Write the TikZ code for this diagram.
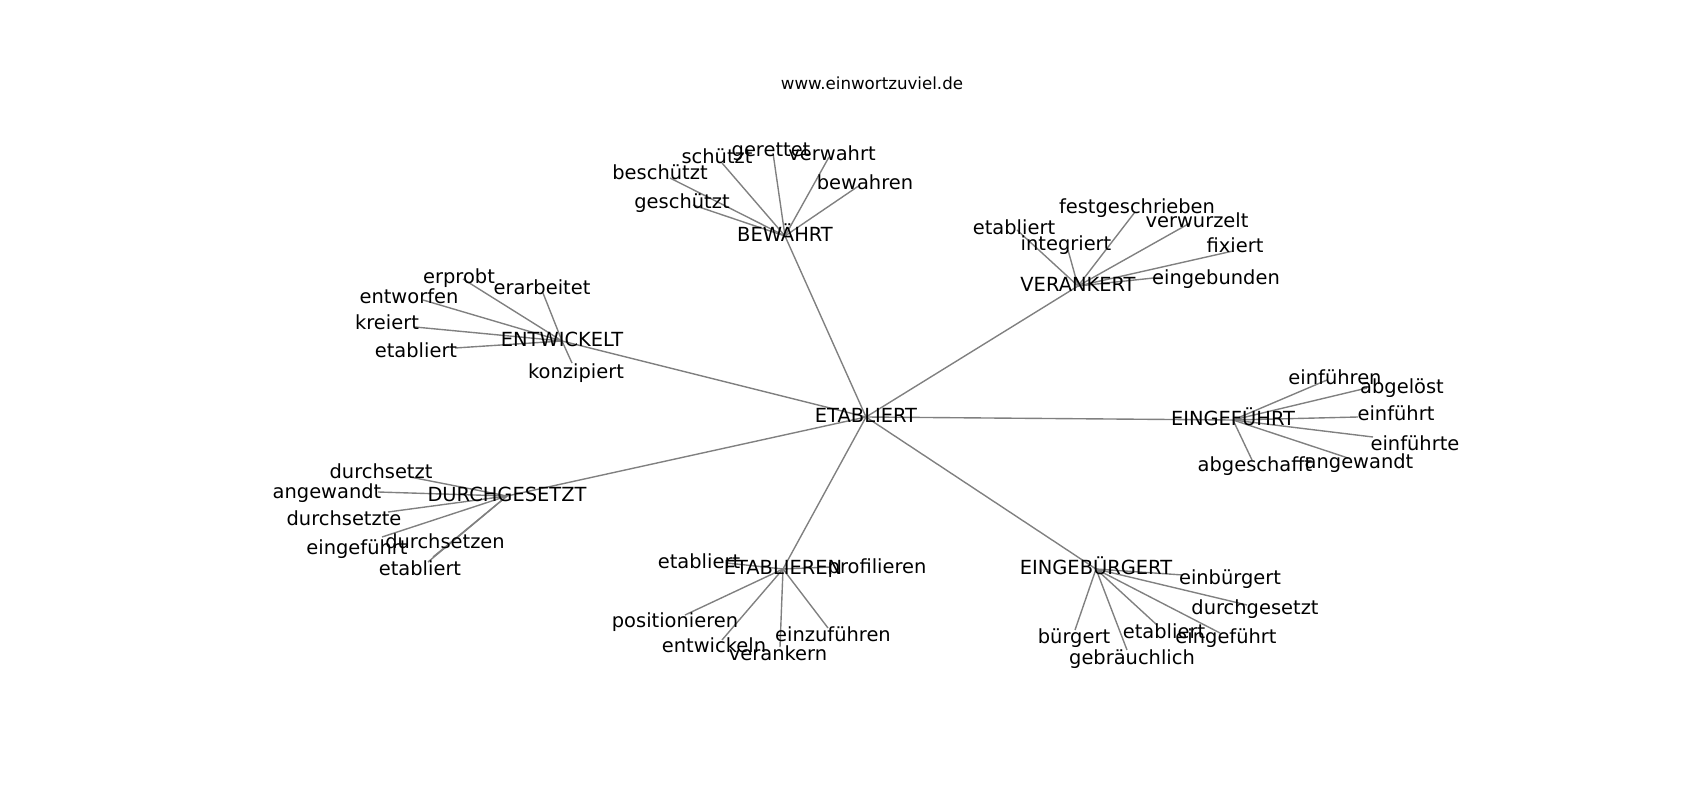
\documentclass[tikz,border=0pt]{standalone}
\usepackage{fontspec}
\setmainfont{DejaVu Sans}
\usetikzlibrary{backgrounds}
\tikzset{
  leaf/.style={font=\fontsize{14}{16}\selectfont, inner sep=0pt,
    text height=10.64pt, text depth=3.36pt},
  hub/.style={leaf},
  sitename/.style={font=\fontsize{12}{14}\selectfont, inner sep=0pt,
    text height=9.12pt, text depth=2.88pt},
  edge/.style={draw=gray, line width=1pt}
}
\newcommand*{\Leaves}[2]{% #1 = hub node, #2 = list of x/y/lx/ly/word
  \foreach \x/\y/\lx/\ly/\word [count=\i] in {#2} {
    \coordinate (#1-\i) at (\x,\y);
    \node [leaf] (#1-\i-label) at (\lx,\ly) {\word};
    \begin{pgfonlayer}{background}
      \draw [edge] (#1.center) -- (#1-\i);
    \end{pgfonlayer}
  }%
}

\begin{document}
\begin{tikzpicture}[x=0.72pt,y=-0.72pt]
  \useasboundingbox (0,0) rectangle (1700,800);
  \node [sitename] (site) at (872,85) {www.einwortzuviel.de};
  % hubs
  \node [hub] (etabliert) at (866,417) {ETABLIERT};
  \node [hub] (bewahrt) at (785,236) {BEWÄHRT};
  \node [hub] (verankert) at (1078,286) {VERANKERT};
  \node [hub] (entwickelt) at (562,341) {ENTWICKELT};
  \node [hub] (eingefuehrt) at (1233,420) {EINGEFÜHRT};
  \node [hub] (durchgesetzt) at (507,496) {DURCHGESETZT};
  \node [hub] (etablieren) at (783,569) {ETABLIEREN};
  \node [hub] (eingebuergert) at (1096,569) {EINGEBÜRGERT};
  \begin{pgfonlayer}{background}
    \foreach \hub in {bewahrt,verankert,entwickelt,eingefuehrt,
                      durchgesetzt,etablieren,eingebuergert}
      \draw [edge] (etabliert.center) -- (\hub.center);
  \end{pgfonlayer}
  % leaves
  \Leaves{bewahrt}{693/205/682/203/geschützt, 670/178/660/174/beschützt,
    722/163/717/158/schützt, 773/153/771/151/gerettet,
    829/157/832/155/verwahrt, 860/185/865/184/bewahren}
  \Leaves{verankert}{1017/230/1014/229/etabliert, 1068/250/1066/245/integriert,
    1135/212/1137/208/festgeschrieben, 1190/223/1197/222/verwurzelt,
    1233/251/1235/247/fixiert, 1163/277/1216/279/eingebunden}
  \Leaves{entwickelt}{463/279/459/278/erprobt, 543/293/542/289/erarbeitet,
    423/300/409/298/entworfen, 415/327/387/324/kreiert,
    455/348/416/352/etabliert, 572/363/576/373/konzipiert}
  \Leaves{eingefuehrt}{1327/380/1335/379/einführen, 1367/388/1402/388/abgelöst,
    1358/417/1396/415/einführt, 1373/437/1415/445/einführte,
    1348/458/1359/463/angewandt, 1252/460/1255/466/abgeschafft}
  \Leaves{durchgesetzt}{410/477/381/473/durchsetzt, 378/492/327/493/angewandt,
    388/512/344/520/durchsetzte, 382/537/357/549/eingeführt,
    433/557/445/543/durchsetzen, 428/562/420/570/etabliert}
  \Leaves{etablieren}{727/563/699/563/etabliert, 830/567/877/568/profilieren,
    685/615/675/622/positionieren, 722/640/714/647/entwickeln,
    780/647/778/655/verankern, 828/628/833/636/einzuführen}
  \Leaves{eingebuergert}{1183/575/1230/579/einbürgert,
    1247/605/1255/609/durchgesetzt, 1220/633/1226/638/eingeführt,
    1157/625/1164/633/etabliert, 1075/630/1074/638/bürgert,
    1127/650/1132/659/gebräuchlich}
\end{tikzpicture}
\end{document}
